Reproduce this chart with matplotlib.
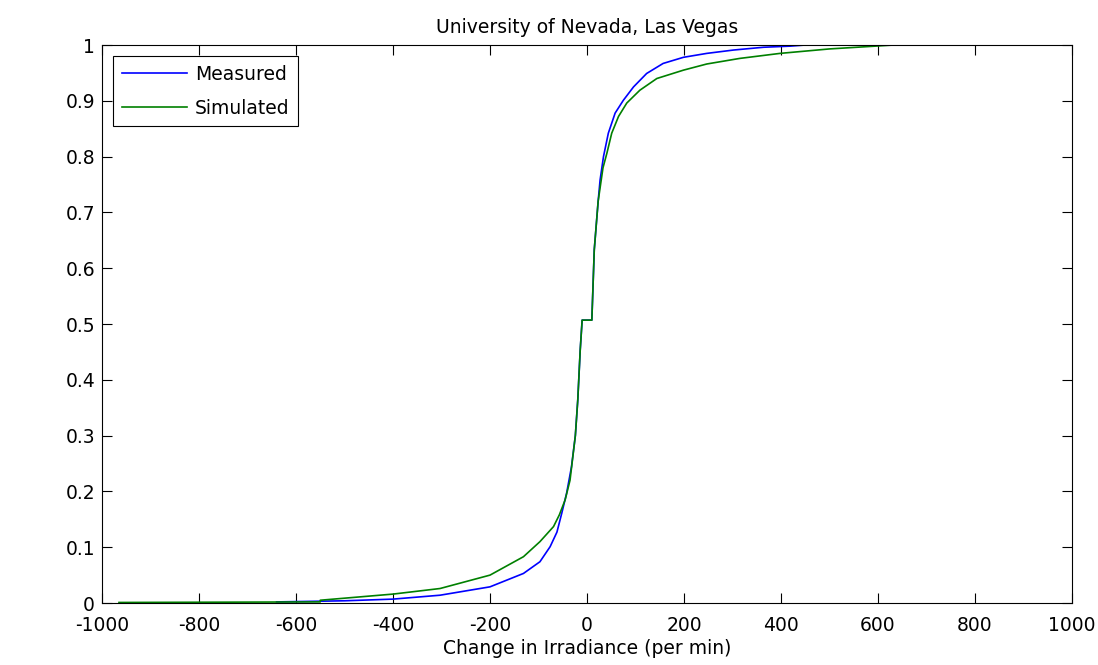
import matplotlib.pyplot as plt
import numpy as np

# measured CDF
meas_x = [-640, -500, -400, -303, -200, -131, -97, -76, -62, -52, -42, -32, -24, -19,
          -14, -10, 10, 15, 23, 27, 34, 44, 58, 75, 96, 123, 157, 199, 247, 302, 364,
          419, 450]
meas_p = [0.002, 0.004, 0.007, 0.014, 0.029, 0.053, 0.074, 0.101, 0.127, 0.161, 0.197,
          0.244, 0.30, 0.364, 0.453, 0.507, 0.507, 0.633, 0.72, 0.758, 0.80, 0.842,
          0.878, 0.901, 0.925, 0.949, 0.967, 0.978, 0.985, 0.991, 0.996, 0.998, 1.0]

# simulated CDF
sim_x = [-965, -550, -550, -400, -303, -200, -131, -97, -69, -57, -45, -35, -24, -19,
         -14, -10, 10, 15, 23, 33, 41, 51, 65, 82, 109, 144, 199, 247, 315, 398, 500,
         632]
sim_p = [0.001, 0.002, 0.005, 0.016, 0.026, 0.050, 0.083, 0.110, 0.137, 0.158, 0.185,
         0.22, 0.30, 0.364, 0.453, 0.507, 0.507, 0.633, 0.72, 0.78, 0.806, 0.842,
         0.872, 0.896, 0.919, 0.940, 0.955, 0.966, 0.976, 0.985, 0.993, 1.0]

xticks = np.arange(-1000, 1001, 200)
yticks = np.round(np.arange(0, 1.01, 0.1), 1)

fs = 13.5
plt.rcParams['font.family'] = ['DejaVu Sans']
plt.rcParams['font.size'] = fs

fig = plt.figure(figsize=(10.98, 6.65), dpi=100)
ax = fig.add_axes([0.0929, 0.0932, 0.8834, 0.8391])

ax.plot(meas_x, meas_p, color=(0, 0, 1), lw=1.2, label='Measured')
ax.plot(sim_x, sim_p, color=(0, 0.5, 0), lw=1.2, label='Simulated')

ax.set_xlim(-1000, 1000)
ax.set_ylim(0, 1)
ax.set_xticks(xticks)
ax.set_xticklabels([str(v) for v in xticks])
ax.set_yticks(yticks)
ax.set_yticklabels(['0' if v == 0 else ('1' if v == 1 else f'{v:.1f}') for v in yticks])
ax.tick_params(direction='in', top=True, right=True, length=7, width=0.8, labelsize=fs)
ax.tick_params(axis='x', pad=9)
ax.tick_params(axis='y', pad=5)
for s in ax.spines.values():
    s.set_linewidth(0.8)

ax.set_title('University of Nevada, Las Vegas', fontsize=fs, pad=9)
ax.set_xlabel('Change in Irradiance (per min)', fontsize=fs, labelpad=3)

leg = ax.legend(loc='upper left', fancybox=False, edgecolor='black', framealpha=1,
                borderaxespad=0.6, borderpad=0.45, handlelength=3.5, handletextpad=0.4,
                labelspacing=0.8, fontsize=fs)
leg.get_frame().set_linewidth(0.8)

fig.savefig('out.png', dpi=100)
